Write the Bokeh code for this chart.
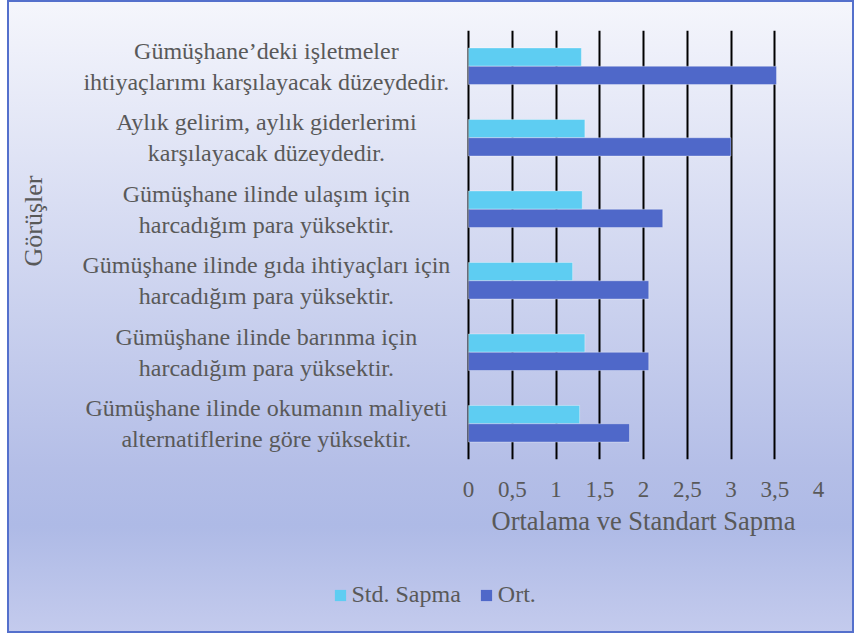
from bokeh.plotting import figure
from bokeh.layouts import column
from bokeh.models import (FactorRange, Range1d, FixedTicker, Legend, LegendItem,
                          ColumnDataSource, Title)
from bokeh.transform import dodge
from bokeh.core.properties import value
from bokeh.embed import file_html
from bokeh.resources import INLINE

# ---- data ----
categories = [
    "Gümüşhane’deki işletmeler\nihtiyaçlarımı karşılayacak düzeydedir.",
    "Aylık gelirim, aylık giderlerimi\nkarşılayacak düzeydedir.",
    "Gümüşhane ilinde ulaşım için\nharcadığım para yüksektir.",
    "Gümüşhane ilinde gıda ihtiyaçları için\nharcadığım para yüksektir.",
    "Gümüşhane ilinde barınma için\nharcadığım para yüksektir.",
    "Gümüşhane ilinde okumanın maliyeti\nalternatiflerine göre yüksektir.",
]
std_sapma = [1.29, 1.33, 1.30, 1.19, 1.33, 1.27]
ort = [3.52, 3.00, 2.22, 2.06, 2.06, 1.84]
series_names = ["Std. Sapma", "Ort."]
x_ticks = [0, 0.5, 1, 1.5, 2, 2.5, 3, 3.5, 4]
x_tick_labels = ["0", "0,5", "1", "1,5", "2", "2,5", "3", "3,5", "4"]
x_title = "Ortalama ve Standart Sapma"
y_title = "Görüşler"

SERIF = "Liberation Serif"
GREY = "#595959"
C_STD = "#5ecdf2"
C_ORT = "#4f68c9"

# horizontal layout: the frame reaches left so that the category texts sit in it
X_MIN, X_MAX = -4.8, 4.0
LABEL_X = -2.31

src = ColumnDataSource(dict(cat=categories, std=std_sapma, ort=ort))

p = figure(
    y_range=FactorRange(factors=categories[::-1]),
    x_range=Range1d(X_MIN, X_MAX),
    frame_width=770, frame_height=429,
    min_border_left=41, min_border_right=36,
    min_border_top=30, min_border_bottom=101,
    output_backend="svg", toolbar_location=None,
)
p.border_fill_color = None
p.background_fill_color = None
p.outline_line_color = None

bar_h = 0.256
r1 = p.hbar(y=dodge("cat", bar_h / 2, range=p.y_range), left=0, right="std", height=bar_h,
            source=src, fill_color=C_STD, line_color="white", line_alpha=0.35, line_width=1)
r2 = p.hbar(y=dodge("cat", -bar_h / 2, range=p.y_range), left=0, right="ort", height=bar_h,
            source=src, fill_color=C_ORT, line_color="white", line_alpha=0.35, line_width=1)

# category texts (centered lines)
p.text(x=LABEL_X, y="cat", text="cat", source=src,
       text_font=value(SERIF), text_font_size="24px", text_color=GREY,
       text_align="center", text_baseline="middle", text_line_height=1.2)

# grid
p.ygrid.grid_line_color = None
p.xgrid.grid_line_color = "black"
p.xgrid.grid_line_width = 2
p.xgrid.ticker = FixedTicker(ticks=x_ticks)

# x axis
xa = p.xaxis[0]
xa.ticker = FixedTicker(ticks=x_ticks)
xa.major_label_overrides = {t: l for t, l in zip(x_ticks, x_tick_labels)}
xa.axis_line_color = None
xa.major_tick_line_color = None
xa.minor_tick_line_color = None
xa.major_tick_out = 0
xa.major_label_standoff = 22
xa.major_label_text_font = SERIF
xa.major_label_text_font_size = "23px"
xa.major_label_text_color = GREY

xt = Title(text=x_title, align="left", offset=443, standoff=9,
           text_font=SERIF, text_font_size="26.5px", text_font_style="normal",
           text_color=GREY)
p.add_layout(xt, "below")

# y axis (category texts are drawn above; its title is placed as a side title)
ya = p.yaxis[0]
ya.axis_line_color = None
ya.major_tick_line_color = None
ya.minor_tick_line_color = None
ya.major_tick_out = 0
ya.major_label_standoff = 0
ya.major_label_text_font_size = "0px"
ya.major_label_text_alpha = 0

yt = Title(text=y_title, align="left", offset=193, standoff=2,
           text_font=SERIF, text_font_size="26px", text_font_style="normal",
           text_color=GREY)
p.add_layout(yt, "left")

# ---- legend strip below the chart ----
lf = figure(width=847, height=73, x_range=Range1d(0, 4),
            y_range=FactorRange(factors=categories[::-1]),
            x_axis_type=None, y_axis_type=None,
            min_border=0, output_backend="svg", toolbar_location=None)
lf.border_fill_color = None
lf.background_fill_color = None
lf.outline_line_color = None
lf.grid.visible = False
k1 = lf.hbar(y="cat", left=0, right="std", height=bar_h, source=src,
             fill_color=C_STD, line_color=None, visible=False)
k2 = lf.hbar(y="cat", left=0, right="ort", height=bar_h, source=src,
             fill_color=C_ORT, line_color=None, visible=False)

legend = Legend(
    items=[LegendItem(label=series_names[0], renderers=[k1]),
           LegendItem(label=series_names[1], renderers=[k2])],
    orientation="horizontal", location=(284.5, 25),
    background_fill_alpha=0, border_line_color=None,
    glyph_width=14, glyph_height=14, label_standoff=5, spacing=18,
    padding=0, margin=0,
    label_text_font=SERIF, label_text_font_size="24px", label_text_color=GREY,
)
lf.add_layout(legend)

page = column(p, lf, spacing=0)
page.styles = {
    "margin-left": "7px",
    "background": "linear-gradient(to bottom, #f5f6fc 0%, #b4bee7 74%, #aebae6 83%, #c4cbed 100%)",
    "box-shadow": "inset 0 0 0 2px #5470cc",
}

open("out.html", "w").write(file_html(page, INLINE))
